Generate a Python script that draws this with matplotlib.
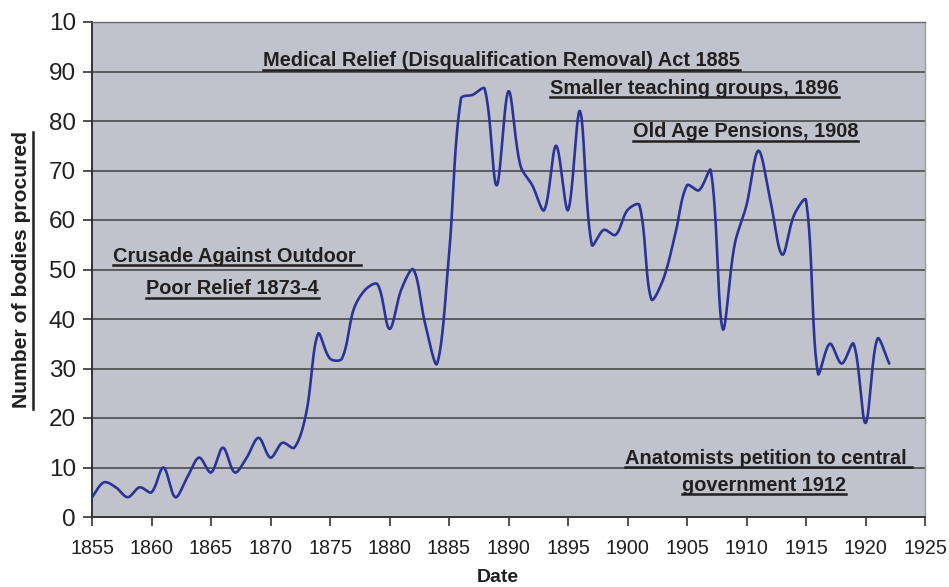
import numpy as np
import matplotlib
matplotlib.use("Agg")
import matplotlib.pyplot as plt

years = list(range(1855, 1923))
bodies = [4, 7, 6, 4, 6, 5, 10, 4, 8, 12, 9, 14, 9, 12, 16, 12, 15, 14, 21, 37,
          32, 32, 42, 46, 47, 38, 46, 50, 39, 31, 53, 84.5, 85.3, 86.5, 67, 86, 71, 67,
          62, 75, 62, 82, 55, 58, 57, 62, 63, 44, 48, 57, 67, 66, 70, 38, 55, 63,
          74, 64, 53, 61, 64, 29, 35, 31, 35, 19, 36, 31]

x_ticks = list(range(1855, 1926, 5))
y_ticks = list(range(0, 101, 10))
y_tick_labels = ["0", "10", "20", "30", "40", "50", "60", "70", "80", "90", "10"]

annotations = [
    ("Medical Relief (Disqualification Removal) Act 1885", 1869.37, 91.1),
    ("Smaller teaching groups, 1896", 1893.49, 85.5),
    ("Old Age Pensions, 1908", 1900.46, 76.7),
    ("Crusade Against Outdoor ", 1856.74, 51.6),
    ("Poor Relief 1873-4", 1859.54, 45.0),
    ("Anatomists petition to central ", 1899.79, 10.8),
    ("government 1912", 1904.55, 5.35),
]


def smooth(xs, ys, xscale, yscale, n=40):
    """Chord-weighted Bezier smoothing (similar to spreadsheet 'smoothed line')."""
    xs = np.asarray(xs, float)
    ys = np.asarray(ys, float)
    P = np.column_stack([xs * xscale, ys * yscale])
    m = len(P)
    cin = np.zeros_like(P)
    cout = np.zeros_like(P)
    for i in range(m):
        a = P[max(i - 1, 0)]
        b = P[min(i + 1, m - 1)]
        T = b - a
        d0 = np.hypot(*(P[i] - a))
        d1 = np.hypot(*(b - P[i]))
        s = d0 + d1
        if s == 0:
            cin[i] = cout[i] = P[i]
            continue
        cout[i] = P[i] + T * (1 / 3) * d1 / s
        cin[i] = P[i] - T * (1 / 3) * d0 / s
    t = np.linspace(0, 1, n, endpoint=False)[:, None]
    segs = []
    for i in range(m - 1):
        p1, c1, c2, p2 = P[i], cout[i], cin[i + 1], P[i + 1]
        seg = ((1 - t) ** 3) * p1 + 3 * ((1 - t) ** 2) * t * c1 + 3 * (1 - t) * t ** 2 * c2 + t ** 3 * p2
        segs.append(seg)
    segs.append(P[-1:])
    out = np.vstack(segs)
    return out[:, 0] / xscale, out[:, 1] / yscale


plt.rcParams['font.family'] = ['Liberation Sans', 'DejaVu Sans']
text_color = "#231f20"

fig = plt.figure(figsize=(9.49, 5.87), dpi=100)
ax = fig.add_axes([92 / 949, 1 - 517 / 587, (925 - 92) / 949, (517 - 22) / 587])
ax.set_facecolor("#c0c3cc")

ax.set_xlim(1855, 1925)
ax.set_ylim(0, 100)
px_per_year = (925 - 92) / 70.0
px_per_unit = (517 - 22) / 100.0
sx, sy = smooth(years, bodies, px_per_year, px_per_unit)
ax.plot(sx, sy, color="#2b3399", lw=1.9, zorder=3, solid_capstyle="round")

ax.set_xticks(x_ticks)
ax.set_xticklabels([str(v) for v in x_ticks], fontsize=14.2, color=text_color)
ax.set_yticks(y_ticks)
ax.set_yticklabels(y_tick_labels, fontsize=17.5, color=text_color)
ax.tick_params(axis="both", direction="out", length=6.5, width=1.2, color="#333333")
ax.tick_params(axis="x", pad=9)
ax.tick_params(axis="y", pad=5)

for v in y_ticks[1:]:
    ax.axhline(v, color="#4a4a4a", lw=1.2, zorder=1)

for side in ["left", "bottom"]:
    ax.spines[side].set_color("#333333")
    ax.spines[side].set_linewidth(1.4)
ax.spines["right"].set_color("#9a9a9a")
ax.spines["right"].set_linewidth(1.0)
ax.spines["top"].set_color("#6a6a6a")
ax.spines["top"].set_linewidth(1.0)

texts = []
for s, x, y in annotations:
    t = ax.text(x, y, s, fontsize=14.4, fontweight="bold", color=text_color,
                ha="left", va="baseline", zorder=4)
    texts.append(t)

ylab = fig.text(21.5 / 949, 1 - 270 / 587, "Number of bodies procured", rotation=90,
                fontsize=15.2, fontweight="bold", color=text_color,
                ha="center", va="center")
fig.text(498 / 949, 1 - 578 / 587, "Date", fontsize=14, fontweight="bold",
         color=text_color, ha="center", va="center")

fig.canvas.draw()
renderer = fig.canvas.get_renderer()
H = fig.bbox.height
W = fig.bbox.width
for t in texts:
    bb = t.get_window_extent(renderer)
    disp = ax.transData.transform((t.get_position()))
    base_y = disp[1] - 3.5
    fig.add_artist(plt.Line2D([bb.x0 / W, bb.x1 / W],
                              [base_y / H, base_y / H],
                              transform=fig.transFigure, color=text_color, lw=1.8))

bb = ylab.get_window_extent(renderer)
ux = (bb.x1 + 2) / W
fig.add_artist(plt.Line2D([ux, ux], [bb.y0 / H, bb.y1 / H],
                          transform=fig.transFigure, color=text_color, lw=1.8))

fig.savefig("out.png", dpi=100)
